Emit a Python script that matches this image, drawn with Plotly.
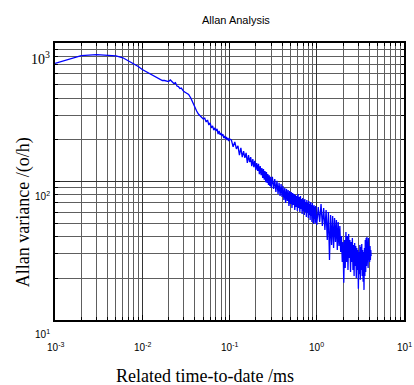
import plotly.graph_objects as go

# ---- data (tau, Allan value) ----
tau_a = [0.001, 0.002, 0.003, 0.004, 0.005, 0.006, 0.007, 0.008, 0.009, 0.010,
         0.011, 0.012, 0.013, 0.014, 0.015, 0.016, 0.017, 0.018, 0.019, 0.020,
         0.021, 0.022, 0.023, 0.024, 0.025, 0.026, 0.027, 0.028, 0.029, 0.030]
val_a = [713, 810, 824, 819, 806, 782, 741, 699, 677, 644,
         622, 607, 587, 573, 554, 545, 536, 536, 532, 527,
         541, 523, 510, 518, 489, 485, 469, 473, 454, 446]

tau_b = [0.032, 0.034, 0.036, 0.038, 0.040, 0.042, 0.044, 0.046, 0.048, 0.050,
         0.052, 0.054, 0.056, 0.058, 0.060, 0.062, 0.064, 0.066, 0.068, 0.070,
         0.072, 0.074, 0.076, 0.078, 0.080, 0.082, 0.084, 0.086, 0.088, 0.090,
         0.092, 0.094, 0.096, 0.098, 0.100]
val_b = [435, 425, 401, 369, 339, 323, 307, 297, 292, 283,
         287, 269, 278, 256, 265, 244, 252, 235, 244, 232,
         240, 220, 232, 217, 224, 213, 220, 206, 213, 203,
         210, 199.5, 206, 196, 203]

tau_c = [0.105, 0.110, 0.115, 0.120, 0.125, 0.130, 0.135, 0.140, 0.145, 0.150,
         0.155, 0.160, 0.165, 0.170, 0.175, 0.180, 0.185, 0.190, 0.195, 0.200,
         0.205, 0.210, 0.215, 0.220, 0.225, 0.230, 0.235, 0.240, 0.245, 0.250,
         0.255, 0.260, 0.265, 0.270, 0.275, 0.280, 0.285, 0.290, 0.295, 0.300]
val_c = [199.5, 178, 193, 172, 181, 155, 175, 150, 166, 148,
         161, 136, 155, 138, 150, 129, 145, 127, 141, 121,
         136, 119, 134, 113, 129, 111, 125, 106, 123, 103,
         119, 99, 117, 97.7, 113, 94.4, 111, 92.9, 108, 89.8]

tau_d = [0.31, 0.32, 0.33, 0.34, 0.35, 0.36, 0.37, 0.38, 0.39, 0.40,
         0.41, 0.42, 0.43, 0.44, 0.45, 0.46, 0.47, 0.48, 0.49, 0.50,
         0.51, 0.52, 0.53, 0.54, 0.55, 0.56, 0.57, 0.58, 0.59, 0.60,
         0.61, 0.62, 0.63, 0.64, 0.65, 0.66, 0.67, 0.68, 0.69, 0.70,
         0.71, 0.72, 0.73, 0.74, 0.75, 0.76, 0.77, 0.78, 0.79, 0.80,
         0.81, 0.82, 0.83, 0.84, 0.85, 0.86, 0.87, 0.88, 0.89, 0.90,
         0.91, 0.92, 0.93, 0.94, 0.95, 0.96, 0.97, 0.98, 0.99, 1.00]
val_d = [108, 88.4, 104, 84.0, 101, 81.3, 97.7, 78.6, 96, 77.3,
         92.9, 73.5, 89.8, 69.9, 88.4, 72.3, 86.9, 66.5, 85.5, 68.8,
         84.0, 64.3, 82.7, 67.6, 81.3, 62.3, 80.0, 65.4, 78.6, 61.2,
         81.3, 64.3, 77.3, 60.2, 78.6, 63.3, 74.8, 58.3, 76.0, 61.2,
         73.5, 57.3, 74.8, 60.2, 71.1, 55.4, 73.5, 59.2, 69.9, 54.5,
         72.3, 57.3, 68.8, 52.7, 71.1, 56.4, 67.6, 51.0, 69.9, 54.5,
         66.5, 49.3, 67.6, 53.6, 65.4, 50.2, 66.5, 51.9, 64.3, 48.5]

tau_e = [1.04, 1.08, 1.12, 1.16, 1.20, 1.24, 1.28, 1.32, 1.36, 1.40,
         1.44, 1.48, 1.52, 1.56, 1.60, 1.64, 1.68, 1.72, 1.76, 1.80,
         1.84, 1.88, 1.92, 1.96, 2.00, 2.04, 2.08, 2.12, 2.16, 2.20,
         2.24, 2.28, 2.32, 2.36, 2.40, 2.44, 2.48, 2.52, 2.56, 2.60,
         2.64, 2.68, 2.72, 2.76, 2.80, 2.84, 2.88, 2.92, 2.96, 3.00,
         3.04, 3.08, 3.12, 3.16, 3.20, 3.24, 3.28, 3.32, 3.36, 3.40,
         3.44, 3.48, 3.52, 3.56, 3.60, 3.64, 3.68, 3.72, 3.76, 3.80,
         3.84, 3.88, 3.92, 3.96, 4.00, 4.04, 4.08, 4.12, 4.16, 4.20]
val_e = [65.4, 51.0, 68.8, 47.7, 64.3, 44.7, 62.3, 37.8, 60.2, 27.1,
         57.3, 34.8, 56.4, 33.1, 54.5, 36.6, 52.7, 32.0, 51.0, 34.2,
         47.7, 31.0, 40.4, 26.2, 36.6, 18.6, 37.8, 23.7, 43.2, 26.2,
         40.4, 23.0, 41.8, 28.0, 37.8, 22.2, 36.6, 26.2, 39.1, 23.0,
         34.8, 20.8, 36.0, 24.5, 34.2, 20.1, 33.1, 23.0, 32.0, 16.8,
         31.0, 21.4, 34.8, 19.5, 33.7, 23.0, 35.4, 20.8, 32.0, 18.9,
         31.0, 16.5, 33.1, 20.8, 37.8, 22.2, 39.1, 24.5, 39.8, 26.2,
         37.8, 23.7, 39.1, 28.0, 36.6, 26.2, 34.2, 27.1, 32.0, 29.0]

x_tick_exponents = [-3, -2, -1, 0, 1]
y_tick_exponents = [3, 2, 1]

title_text = "Allan Analysis"
x_title = "Related time-to-date /ms"
y_title = "Allan variance /(o/h)"

tau = tau_a + tau_b + tau_c + tau_d + tau_e
allan = val_a + val_b + val_c + val_d + val_e

SANS = "Liberation Sans, Arial, sans-serif"
SERIF = "Liberation Serif, Times New Roman, serif"

fig = go.Figure(go.Scatter(x=tau, y=allan, mode="lines",
                           line=dict(color="#0000ff", width=1.3),
                           hoverinfo="skip"))

axis_common = dict(
    type="log", showgrid=True, gridcolor="#333333", gridwidth=1, dtick=1,
    minor=dict(dtick="D1", showgrid=True, gridcolor="#5e5e5e", gridwidth=1,
               ticks="inside", ticklen=3, tickcolor="black"),
    ticks="inside", ticklen=5, tickcolor="black",
    showline=True, linecolor="black", linewidth=1.6, mirror="allticks",
    showticklabels=False, zeroline=False,
)
fig.update_xaxes(range=[-3, 1], **axis_common)
fig.update_yaxes(range=[1, 3], **axis_common)

ann = []
for e in x_tick_exponents:
    ann.append(dict(text=f"10<sup>{e}</sup>", xref="x", x=e, yref="paper", y=0,
                    yanchor="middle", xanchor="center", yshift=-27, showarrow=False,
                    font=dict(family=SANS, size=10, color="black")))
for e in y_tick_exponents:
    if e == 3:
        f = dict(family=SERIF, size=14, color="black"); ys = -15
    else:
        f = dict(family=SANS, size=10, color="black"); ys = -14
    ann.append(dict(text=f"10<sup>{e}</sup>", xref="paper", x=0, yref="y", y=e,
                    xanchor="right", yanchor="middle", xshift=-3, yshift=ys,
                    showarrow=False, font=f))
ann.append(dict(text=title_text, xref="paper", yref="paper",
                x=(237 - 55) / 351, y=(320 - 20) / 277, xanchor="center", yanchor="middle",
                showarrow=False, font=dict(family=SANS, size=11, color="black")))
ann.append(dict(text=x_title, xref="paper", yref="paper",
                x=(206 - 55) / 351, y=(320 - 376) / 277, xanchor="center", yanchor="middle",
                showarrow=False, font=dict(family=SERIF, size=18, color="black")))
ann.append(dict(text=y_title, xref="paper", yref="paper", textangle=-90,
                x=(23 - 55) / 351, y=(320 - 212) / 277, xanchor="center", yanchor="middle",
                showarrow=False, font=dict(family=SERIF, size=18, color="black")))

fig.update_layout(width=414, height=385, margin=dict(l=55, r=8, t=43, b=65),
                  paper_bgcolor="white", plot_bgcolor="white", showlegend=False,
                  annotations=ann, hovermode=False)

fig.write_html("out.html", config={"displayModeBar": False, "staticPlot": True},
               post_script="document.body.style.margin='0px';document.body.style.overflow='hidden';")
